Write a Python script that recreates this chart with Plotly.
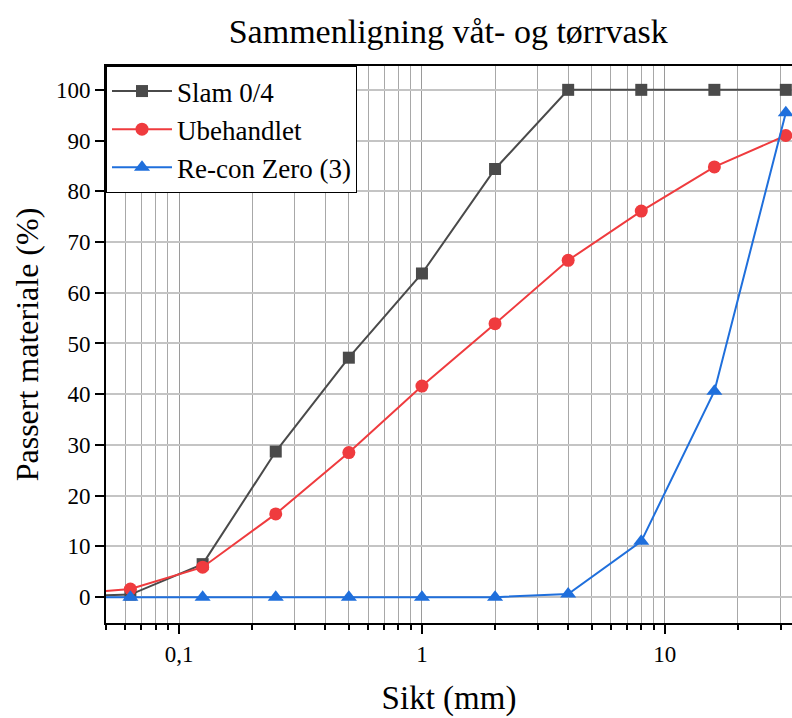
import plotly.graph_objects as go
import math

sieve_mm = [0.04, 0.063, 0.125, 0.25, 0.5, 1, 2, 4, 8, 16, 31.5]
slam = [0.2, 0.5, 6.5, 28.7, 47.2, 63.8, 84.4, 100, 100, 100, 100]
ubehandlet = [0.8, 1.6, 5.9, 16.4, 28.5, 41.6, 53.9, 66.4, 76.1, 84.8, 91.0]
recon = [0.0, 0.0, 0.0, 0.0, 0.0, 0.0, 0.0, 0.6, 11.0, 40.6, 95.5]

series_names = ["Slam 0/4", "Ubehandlet", "Re-con Zero (3)"]
colors = ["#4a4a4a", "#ef3b3e", "#1f6fdc"]
symbols = ["square", "circle", "triangle-up"]
sizes = [12, 13, 14]

fig = go.Figure()
for name, ys, c, s, sz in zip(series_names, [slam, ubehandlet, recon], colors, symbols, sizes):
    fig.add_trace(go.Scatter(
        x=sieve_mm, y=ys, name=name, mode="lines+markers",
        line=dict(color=c, width=2),
        marker=dict(symbol=s, size=sz, color=c),
        cliponaxis=True,
    ))

font_family = "Liberation Serif, Times New Roman, serif"
fig.update_layout(
    width=792, height=718,
    margin=dict(l=106, r=0, t=66, b=95),
    paper_bgcolor="white", plot_bgcolor="white",
    separators=", ",
    font=dict(family=font_family, color="black", size=22),
    title=dict(text="Sammenligning våt- og tørrvask", x=0.566, xanchor="center",
               y=0.957, yanchor="middle", font=dict(size=34, family=font_family)),
    legend=dict(x=0, y=1, xanchor="left", yanchor="top",
                bgcolor="white", bordercolor="black", borderwidth=1,
                font=dict(size=27, family=font_family),
                tracegroupgap=0, itemwidth=60),
    showlegend=True,
)
fig.update_xaxes(
    type="log", range=[math.log10(0.05), math.log10(33.4)],
    dtick=1, ticks="outside", ticklen=9, tickwidth=2, tickcolor="black",
    showline=True, linecolor="black", linewidth=2, mirror=True,
    showgrid=True, gridcolor="#9a9a9a", gridwidth=1,
    minor=dict(dtick="D1", ticks="outside", ticklen=5, tickwidth=1.5, tickcolor="black",
               showgrid=True, gridcolor="#a8a8a8", gridwidth=1),
    tickfont=dict(size=23, family=font_family),
    title=dict(text="Sikt (mm)", font=dict(size=33, family=font_family), standoff=20),
    zeroline=False,
)
fig.update_yaxes(
    range=[-5.1, 104.7], dtick=10, tick0=0,
    ticks="outside", ticklen=9, tickwidth=2, tickcolor="black",
    showline=True, linecolor="black", linewidth=2, mirror=False,
    showgrid=True, gridcolor="#c4c4c4", gridwidth=1.5,
    tickfont=dict(size=23, family=font_family),
    title=dict(text="Passert materiale (%)", font=dict(size=32, family=font_family), standoff=8),
    zeroline=False,
)
fig.write_html("out.html")
